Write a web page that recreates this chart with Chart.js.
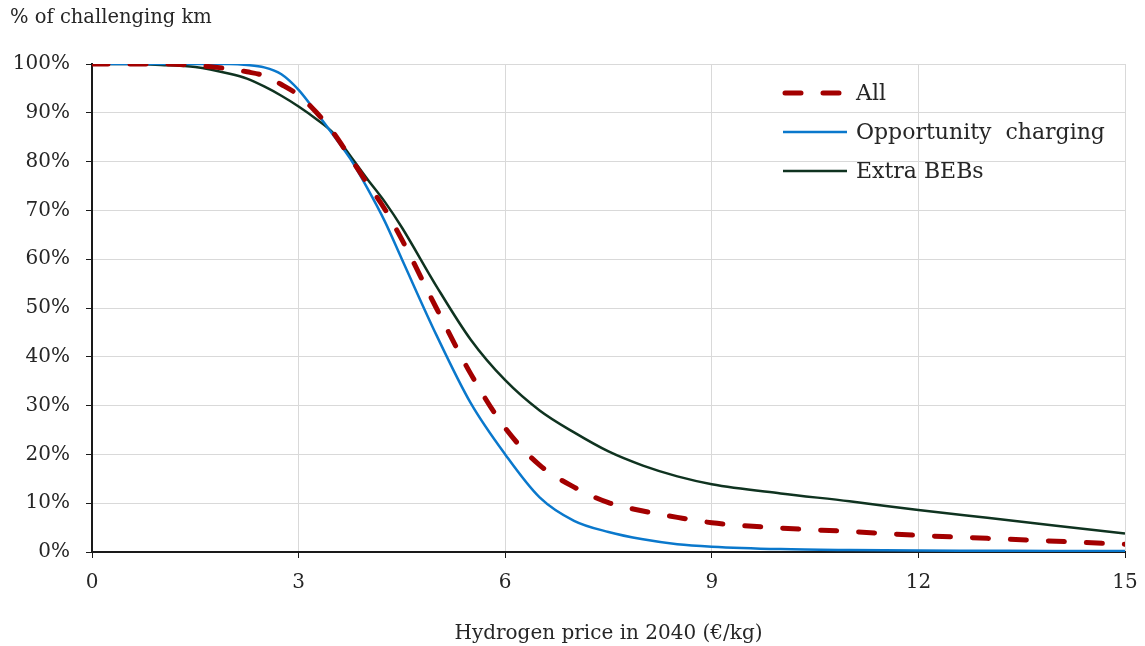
<!DOCTYPE html>
<html>
<head>
<meta charset="utf-8">
<script src="https://cdn.jsdelivr.net/npm/chart.js@4.4.1/dist/chart.umd.min.js"></script>
<style>
  html, body { margin: 0; padding: 0; background: #ffffff; }
  #wrap { width: 1145px; height: 646px; position: relative; }
</style>
</head>
<body>
<div id="wrap"><canvas id="chart" width="1145" height="646"></canvas></div>
<script>
// Hydrogen price in 2040 (€/kg)
const hydrogenPrice = [0, 0.5, 1, 1.5, 2, 2.25, 2.5, 2.75, 3, 3.25, 3.5, 3.75, 4, 4.25, 4.5, 5, 5.5, 6, 6.5, 7, 7.5, 8, 8.5, 9, 10, 11, 12, 13, 14, 15];

// Share of challenging km (%)
const allKm = [100, 100, 100, 99.7, 99, 98.4, 97.6, 95.8, 93.6, 90.2, 86, 80.8, 75.5, 70.3, 64, 50, 36.5, 25.4, 17.8, 13.3, 10.1, 8.4, 7.1, 6.0, 4.9, 4.2, 3.4, 2.8, 2.2, 1.6];
const opportunityCharging = [100, 100, 100, 100, 100, 99.8, 99.3, 97.9, 94.7, 90.2, 85.5, 80.6, 74.5, 67.8, 60, 44.5, 30.5, 20, 11.2, 6.4, 4.1, 2.6, 1.6, 1.1, 0.6, 0.4, 0.3, 0.25, 0.2, 0.2];
const extraBEBs = [100, 100, 99.8, 99.4, 98, 97, 95.4, 93.5, 91.3, 88.8, 85.9, 81.2, 76.4, 71.8, 66.5, 54.5, 43.5, 35.2, 29, 24.5, 20.6, 17.7, 15.5, 13.9, 12, 10.4, 8.6, 7, 5.4, 3.8];

const seriesNames = ['All', 'Opportunity  charging', 'Extra BEBs'];
const xTicks = [0, 3, 6, 9, 12, 15];
const yTicks = [0, 10, 20, 30, 40, 50, 60, 70, 80, 90, 100];

const FONT = '"DejaVu Serif", "Liberation Serif", serif';
const TEXT = '#262626';

function pts(values) {
  return hydrogenPrice.map((x, i) => ({ x: x, y: values[i] }));
}

// Legend drawn inside the plot, top-right
const innerLegend = {
  id: 'innerLegend',
  afterDraw(chart) {
    const ctx = chart.ctx;
    const area = chart.chartArea;
    const x0 = area.right - 342;
    const rowGap = 39;
    ctx.save();
    ctx.font = '22px ' + FONT;
    ctx.textBaseline = 'middle';
    chart.data.datasets.forEach((ds, i) => {
      const y = area.top + 29 + i * rowGap;
      ctx.beginPath();
      ctx.strokeStyle = ds.borderColor;
      ctx.lineWidth = ds.borderWidth;
      ctx.lineCap = ds.borderCapStyle || 'butt';
      ctx.setLineDash(ds.borderDash || []);
      ctx.moveTo(x0 + (ds.borderDash ? 2 : 0), y);
      ctx.lineTo(x0 + 64, y);
      ctx.stroke();
      ctx.setLineDash([]);
      ctx.fillStyle = TEXT;
      ctx.textAlign = 'left';
      ctx.fillText(ds.label, x0 + 73, y + 1);
    });
    ctx.restore();
  }
};

// Y axis title in the top-left corner
const cornerTitle = {
  id: 'cornerTitle',
  afterDraw(chart) {
    const ctx = chart.ctx;
    ctx.save();
    ctx.font = '19.5px ' + FONT;
    ctx.fillStyle = TEXT;
    ctx.textAlign = 'left';
    ctx.textBaseline = 'middle';
    ctx.fillText('% of challenging km', 10, 18);
    ctx.restore();
  }
};

new Chart(document.getElementById('chart'), {
  type: 'line',
  data: {
    datasets: [
      {
        label: seriesNames[0],
        data: pts(allKm),
        borderColor: '#a30000',
        borderWidth: 5,
        borderDash: [16, 22],
        borderCapStyle: 'round',
        pointRadius: 0,
        cubicInterpolationMode: 'monotone',
        order: 0
      },
      {
        label: seriesNames[1],
        data: pts(opportunityCharging),
        borderColor: '#0a78cc',
        borderWidth: 2.5,
        pointRadius: 0,
        cubicInterpolationMode: 'monotone',
        order: 1
      },
      {
        label: seriesNames[2],
        data: pts(extraBEBs),
        borderColor: '#0f3320',
        borderWidth: 2.5,
        pointRadius: 0,
        cubicInterpolationMode: 'monotone',
        order: 2
      }
    ]
  },
  options: {
    responsive: false,
    animation: false,
    events: [],
    layout: { padding: { left: 0, right: 0, top: 64, bottom: 0 } },
    plugins: {
      legend: { display: false },
      title: { display: false },
      tooltip: { enabled: false }
    },
    scales: {
      x: {
        type: 'linear',
        min: 0,
        max: 15,
        afterBuildTicks(scale) { scale.ticks = xTicks.map(v => ({ value: v })); },
        afterFit(scale) { scale.height = 94; scale.paddingRight = 20; scale.paddingLeft = 0; },
        ticks: { color: TEXT, font: { family: FONT, size: 20 }, padding: 13, maxRotation: 0 },
        grid: { color: '#d9d9d9', lineWidth: 1, tickLength: 6, tickColor: '#1a1a1a', drawOnChartArea: true },
        border: { color: '#1a1a1a', width: 2 },
        title: { display: true, text: 'Hydrogen price in 2040 (€/kg)', color: TEXT, font: { family: FONT, size: 20 }, padding: { top: 11, bottom: 0 } }
      },
      y: {
        min: 0,
        max: 100,
        afterBuildTicks(scale) { scale.ticks = yTicks.map(v => ({ value: v })); },
        afterFit(scale) { scale.width = 92; },
        ticks: { color: TEXT, font: { family: FONT, size: 20 }, padding: 16, callback: v => v + '%' },
        grid: { color: '#d9d9d9', lineWidth: 1, tickLength: 6, tickColor: '#1a1a1a' },
        border: { color: '#1a1a1a', width: 2 }
      }
    }
  },
  plugins: [innerLegend, cornerTitle]
});
</script>
</body>
</html>
